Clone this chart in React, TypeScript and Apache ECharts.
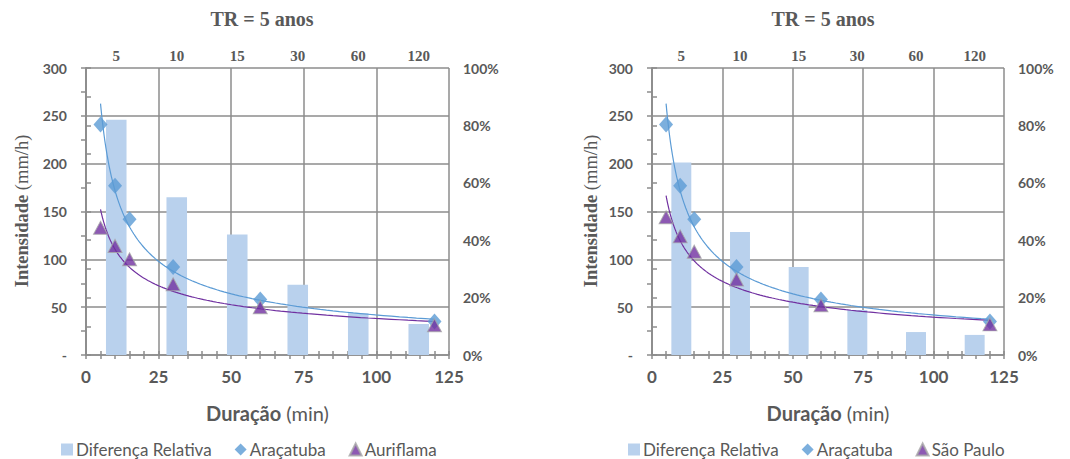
import React, { useEffect, useRef } from "react";
import * as echarts from "echarts";

const durations = [5, 10, 15, 30, 60, 120];
const categories = ["5", "10", "15", "30", "60", "120"];
const aracatuba = [241, 177, 142, 92, 58, 35];
const auriflama = [133, 114, 100, 74, 50, 31];
const saoPaulo = [144, 124, 108, 79, 52, 32];
const diffLeft = [0.82, 0.55, 0.42, 0.245, 0.146, 0.108];
const diffRight = [0.671, 0.429, 0.307, 0.157, 0.08, 0.07];
const yTicks = [0, 50, 100, 150, 200, 250, 300];

const SANS = "Lato";
const SERIF = "Liberation Serif";
const GRAY = "#595959";
const LINE = "#8c8c8c";
const BLUE = "#5b9bd5";
const PURPLE = "#7030a0";
const BAR = "#b9d1ed";

// Power-law trendline (least squares on log-log), as Excel's "Power" trendline
function powerFit(xs: number[], ys: number[]) {
  const lx = xs.map(Math.log);
  const ly = ys.map(Math.log);
  const n = xs.length;
  const mx = lx.reduce((a, b) => a + b, 0) / n;
  const my = ly.reduce((a, b) => a + b, 0) / n;
  let sxy = 0, sxx = 0;
  for (let i = 0; i < n; i++) {
    sxy += (lx[i] - mx) * (ly[i] - my);
    sxx += (lx[i] - mx) * (lx[i] - mx);
  }
  const b = sxy / sxx;
  const a = Math.exp(my - b * mx);
  const x0 = xs[0], x1 = xs[n - 1];
  const pts: number[][] = [];
  const steps = 120;
  for (let i = 0; i <= steps; i++) {
    const x = x0 * Math.pow(x1 / x0, i / steps);
    pts.push([x, a * Math.pow(x, b)]);
  }
  return pts;
}

function measure(text: string, font: string) {
  const c = document.createElement("canvas").getContext("2d");
  if (!c) return text.length * 9;
  c.font = font;
  return c.measureText(text).width;
}

const NAME_SIZE = 18.5;

function yName(cx: number, cy: number) {
  const boldFont = `bold ${NAME_SIZE}px "${SERIF}"`;
  const normFont = `${NAME_SIZE}px "${SERIF}"`;
  const w1 = measure("Intensidade", boldFont);
  const ws = measure(" ", normFont);
  const w2 = measure("(mm/h)", normFont);
  const W = w1 + ws + w2;
  return {
    type: "group", x: cx, y: cy, rotation: Math.PI / 2, silent: true,
    children: [
      { type: "text", x: -W / 2, y: 0,
        style: { text: "Intensidade", fontFamily: SERIF, fontWeight: "bold", fontSize: NAME_SIZE,
          fill: GRAY, align: "left", verticalAlign: "middle" } },
      { type: "text", x: -W / 2 + w1 + ws, y: 0,
        style: { text: "(mm/h)", fontFamily: SERIF, fontWeight: "normal", fontSize: NAME_SIZE,
          fill: GRAY, align: "left", verticalAlign: "middle" } },
    ],
  };
}

function buildPanel(idx: number, otherName: string, other: number[], diff: number[]) {
  const xi = idx * 3;
  const yi = idx * 2;
  const xAxes = [
    {
      gridIndex: idx, type: "value", position: "bottom", min: 0, max: 125, interval: 25,
      axisLine: { show: true, lineStyle: { color: LINE, width: 1.5 } },
      axisTick: { show: true, length: 4, lineStyle: { color: LINE, width: 1.5 } },
      minorTick: { show: true, splitNumber: 5, length: 4, lineStyle: { color: LINE, width: 1.5 } },
      axisLabel: { margin: 13, color: GRAY, fontFamily: SANS, fontWeight: "bold", fontSize: 17 },
      splitLine: { show: true, lineStyle: { color: LINE, width: 1.5 } },
      name: "{b|Duração} {n|(min)}", nameLocation: "middle", nameGap: 48,
      nameTextStyle: {
        fontFamily: SANS, fontSize: 20, color: GRAY,
        rich: {
          b: { fontFamily: SANS, fontWeight: "bold", fontSize: 20, color: GRAY },
          n: { fontFamily: SANS, fontWeight: "normal", fontSize: 20, color: GRAY },
        },
      },
    },
    {
      gridIndex: idx, type: "category", position: "top", data: categories,
      axisLine: { show: false }, axisTick: { show: false },
      axisLabel: { margin: 5, color: GRAY, fontFamily: SERIF, fontWeight: "bold", fontSize: 15 },
      splitLine: { show: false },
    },
    {
      gridIndex: idx, type: "value", position: "bottom", min: 0, max: 125, interval: 25,
      axisLine: { show: false }, axisLabel: { show: false }, splitLine: { show: false },
      axisTick: { show: true, inside: true, length: 4, lineStyle: { color: LINE, width: 1.5 } },
      minorTick: { show: true, splitNumber: 5, length: 4, lineStyle: { color: LINE, width: 1.5 } },
    },
  ];
  const yAxes = [
    {
      gridIndex: idx, type: "value", position: "left", min: 0, max: 300, interval: 50,
      axisLine: { show: true, lineStyle: { color: LINE, width: 1.5 } },
      axisTick: { show: true, length: 5, lineStyle: { color: LINE, width: 1.5 } },
      minorTick: { show: true, splitNumber: 2, length: 5, lineStyle: { color: LINE, width: 1.5 } },
      axisLabel: {
        margin: 19, color: GRAY, fontFamily: SANS, fontWeight: "bold", fontSize: 14,
        formatter: (v: number) => (v === yTicks[0] ? "-" : String(v)),
      },
      splitLine: { show: true, lineStyle: { color: LINE, width: 1.5 } },
    },
    {
      gridIndex: idx, type: "value", position: "right", min: 0, max: 1, interval: 0.2,
      axisLine: { show: true, lineStyle: { color: LINE, width: 1.5 } },
      axisTick: { show: true, length: 5, lineStyle: { color: LINE, width: 1.5 } },
      minorTick: { show: true, splitNumber: 2, length: 5, lineStyle: { color: LINE, width: 1.5 } },
      axisLabel: {
        margin: 14, color: GRAY, fontFamily: SANS, fontWeight: "bold", fontSize: 14,
        formatter: (v: number) => Math.round(v * 100) + "%",
      },
      splitLine: { show: false },
    },
  ];
  const series = [
    {
      name: "Diferença Relativa", type: "bar", xAxisIndex: xi + 1, yAxisIndex: yi + 1,
      data: diff, barWidth: "34%", itemStyle: { color: BAR }, z: 1,
    },
    {
      name: "trend-a-" + idx, type: "line", xAxisIndex: xi, yAxisIndex: yi,
      data: powerFit(durations, aracatuba), showSymbol: false, symbol: "none",
      lineStyle: { color: BLUE, width: 1.2 }, z: 2, silent: true,
    },
    {
      name: "trend-b-" + idx, type: "line", xAxisIndex: xi, yAxisIndex: yi,
      data: powerFit(durations, other), showSymbol: false, symbol: "none",
      lineStyle: { color: PURPLE, width: 1.2 }, z: 2, silent: true,
    },
    {
      name: "Araçatuba", type: "scatter", xAxisIndex: xi, yAxisIndex: yi,
      data: durations.map((d, i) => [d, aracatuba[i]]),
      symbol: "diamond", symbolSize: [14, 16], itemStyle: { color: BLUE }, z: 3,
    },
    {
      name: otherName, type: "scatter", xAxisIndex: xi, yAxisIndex: yi,
      data: durations.map((d, i) => [d, other[i]]),
      symbol: "triangle", symbolSize: [14, 13],
      itemStyle: { color: PURPLE, borderColor: "#a6a6a6", borderWidth: 1 }, z: 4,
    },
  ];
  return { xAxes, yAxes, series };
}

export default function App() {
  const ref = useRef<HTMLDivElement>(null);
  useEffect(() => {
    if (!ref.current) return;
    const chart = echarts.init(ref.current, null, { renderer: "svg" });
    const p0 = buildPanel(0, "Auriflama", auriflama, diffLeft);
    const p1 = buildPanel(1, "São Paulo", saoPaulo, diffRight);
    const legendBase = {
      top: 441, itemWidth: 12, itemHeight: 12, itemGap: 23, padding: 0,
      textStyle: { fontFamily: SANS, fontSize: 17, color: GRAY, padding: [0, 0, 0, -2] },
    };
    chart.setOption({
      animation: false,
      backgroundColor: "#ffffff",
      title: [
        { text: "TR = 5 anos", left: 262, top: 9, textAlign: "center", padding: 0,
          textStyle: { fontFamily: SERIF, fontWeight: "bold", fontSize: 20, color: GRAY } },
        { text: "TR = 5 anos", left: 823, top: 9, textAlign: "center", padding: 0,
          textStyle: { fontFamily: SERIF, fontWeight: "bold", fontSize: 20, color: GRAY } },
      ],
      legend: [
        { ...legendBase, left: 61,
          data: [
            { name: "Diferença Relativa", icon: "rect" },
            { name: "Araçatuba", icon: "diamond" },
            { name: "Auriflama", icon: "triangle" },
          ] },
        { ...legendBase, left: 628,
          data: [
            { name: "Diferença Relativa", icon: "rect" },
            { name: "Araçatuba", icon: "diamond" },
            { name: "São Paulo", icon: "triangle" },
          ] },
      ],
      grid: [
        { left: 86, right: 1070 - 449, top: 68, bottom: 459 - 355 },
        { left: 652, right: 1070 - 1004, top: 68, bottom: 459 - 355 },
      ],
      graphic: [yName(22, 211), yName(591, 211)],
      xAxis: [...p0.xAxes, ...p1.xAxes],
      yAxis: [...p0.yAxes, ...p1.yAxes],
      series: [...p0.series, ...p1.series],
    });
    return () => chart.dispose();
  }, []);
  return (
    <div
      ref={ref}
      style={{ position: "absolute", left: 0, top: 0, width: 1070, height: 459, background: "#fff" }}
    />
  );
}
